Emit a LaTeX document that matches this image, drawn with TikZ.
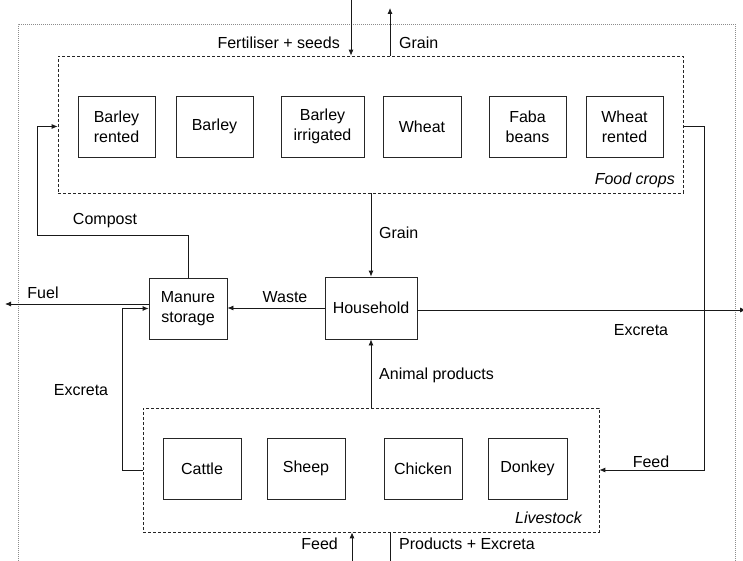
\documentclass[tikz,border=0pt]{standalone}
\usepackage{fontspec}
\setmainfont{Liberation Sans}
\usetikzlibrary{arrows.meta}
\begin{document}
\begin{tikzpicture}[x=1pt,y=-1pt,
  font=\fontsize{16}{20}\selectfont,
  box/.style={draw=black!85,line width=0.8pt,minimum height=61pt,align=center,inner sep=0pt},
  grp/.style={draw=black!85,line width=0.7pt,dash pattern=on 3pt off 2pt,inner sep=0pt},
  frm/.style={draw=black!45,line width=0.8pt,dash pattern=on 1pt off 1pt},
  flow/.style={draw=black!90,line width=0.8pt,-{Latex[length=6pt,width=5pt]}},
  plain/.style={draw=black!90,line width=0.8pt},
  lbl/.style={inner sep=0pt}]
\useasboundingbox (0,0) rectangle (743,561);
% outer frame
\draw[frm] (18,561) -- (18,24) -- (735,24) -- (735,561);
% groups
\node[grp,minimum width=625pt,minimum height=137pt] (crops) at (370.5,124.5) {};
\node[grp,minimum width=456pt,minimum height=124pt] (stock) at (371,470) {};
% crops
\node[box,minimum width=77pt] (br) at (116.5,126.5) {Barley\\rented};
\node[box,minimum width=77pt] (b) at (214.5,126.5) {Barley};
\node[box,minimum width=83pt] (bi) at (322.5,126.5) {Barley\\irrigated};
\node[box,minimum width=78pt] (w) at (422,126.5) {Wheat};
\node[box,minimum width=77pt] (fb) at (527.5,126.5) {Faba\\beans};
\node[box,minimum width=77pt] (wr) at (624.5,126.5) {Wheat\\rented};
% livestock
\node[box,minimum width=78pt] (ca) at (202,468.5) {Cattle};
\node[box,minimum width=78pt] (sh) at (306,468.5) {Sheep};
\node[box,minimum width=78pt] (ch) at (423,468.5) {Chicken};
\node[box,minimum width=79pt] (dk) at (527.5,468.5) {Donkey};
% middle
\node[box,minimum width=92pt,minimum height=62pt] (hh) at (371,308) {Household};
\node[box,minimum width=78pt] (ms) at (188,308.5) {Manure\\storage};
% coordinates
\coordinate (ftop) at (351,0);
\coordinate (gtop) at (390,8);
\coordinate (fbot) at (352,561);
\coordinate (pbot) at (390,561);
\coordinate (fuel) at (5,304);
\coordinate (exout) at (746,310);
\coordinate (cp) at (37,235);
\coordinate (ex) at (122,308.5);
\coordinate (fd) at (704,126.5);
% connectors
\draw[flow] (ftop) -- (ftop |- crops.north);
\draw[flow] (gtop |- crops.north) -- (gtop);
\draw[flow] (fbot) -- (fbot |- stock.south);
\draw[plain] (pbot |- stock.south) -- (pbot);
\draw[flow] (hh.north |- crops.south) -- (hh.north);
\draw[flow] (hh.south |- stock.north) -- (hh.south);
\draw[flow] (hh.west) -- (hh.west -| ms.east);
\draw[flow] (ms.west |- fuel) -- (fuel);
\draw[flow] (stock.west) -| (ex) -- (ms.west);
\draw[flow] (hh.east |- exout) -- (exout);
\draw[flow] (ms.north) |- (cp) |- (br.west -| crops.west);
\draw[flow] (crops.east |- br.east) -- (fd) |- (stock.east);
% labels
\node[lbl,anchor=east] (lfert) at (340,43) {Fertiliser + seeds};
\node[lbl,anchor=west] (lgrain1) at (399,43) {Grain};
\node[lbl,anchor=east] (lfood) at (675,180) {\itshape Food crops};
\node[lbl] (lcomp) at (105,221) {Compost};
\node[lbl,anchor=west] (lgrain2) at (379,233) {Grain};
\node[lbl] (lfuel) at (43,293) {Fuel};
\node[lbl] (lwaste) at (285,297) {Waste};
\node[lbl] (lexc1) at (641,330) {Excreta};
\node[lbl,anchor=west] (lanim) at (379,375) {Animal products};
\node[lbl] (lexc2) at (81,390) {Excreta};
\node[lbl] (lfeed1) at (651,462) {Feed};
\node[lbl,anchor=east] (lstock) at (582,518) {\itshape Livestock};
\node[lbl,anchor=east] (lfeed2) at (338,544) {Feed};
\node[lbl,anchor=west] (lprod) at (399,544) {Products + Excreta};
\end{tikzpicture}
\end{document}
